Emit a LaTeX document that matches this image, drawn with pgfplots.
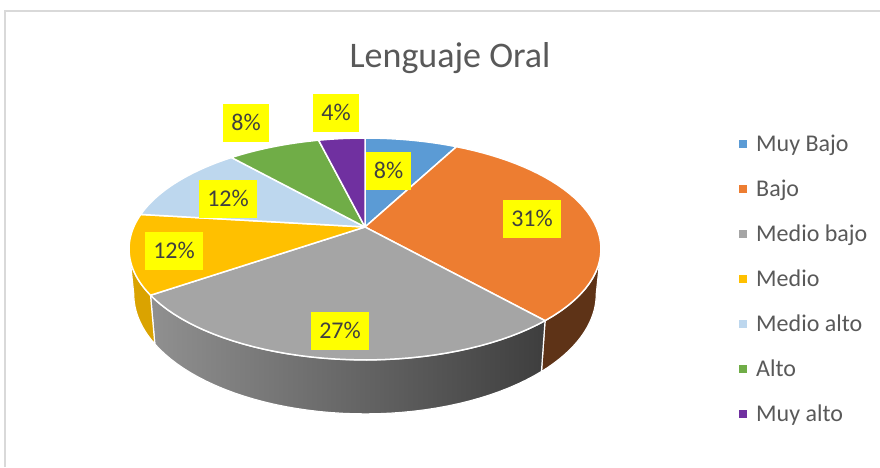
\documentclass[border=0pt]{standalone}
\usepackage{fontspec}
\setmainfont{Carlito}
\usepackage{pgfplots}
\usepackage{pgfplotstable}
\pgfplotsset{compat=1.18}

\definecolor{cMuyBajo}{HTML}{5B9BD5}
\definecolor{cBajo}{HTML}{ED7D31}
\definecolor{cMedioBajo}{HTML}{A5A5A5}
\definecolor{cMedio}{HTML}{FFC000}
\definecolor{cMedioAlto}{HTML}{BDD7EE}
\definecolor{cAlto}{HTML}{70AD47}
\definecolor{cMuyAlto}{HTML}{7030A0}
\definecolor{wBajo}{HTML}{5E3317}
\definecolor{wGrayL}{HTML}{909090}
\definecolor{wGrayR}{HTML}{3E3E3E}
\definecolor{wMedio}{HTML}{DAA300}
\definecolor{txt}{HTML}{404040}
\definecolor{leg}{HTML}{595959}
\definecolor{frame}{HTML}{D9D9D9}
\definecolor{labfill}{HTML}{FFFF00}

\tikzset{lab/.style={fill=labfill, text=txt, font=\fontsize{24}{29}\selectfont,
    inner xsep=8.3pt, inner ysep=0pt, minimum height=38pt, text height=15pt, text depth=0pt}}

% counts (N = 26): percentages 8, 31, 27, 12, 12, 8, 4
\pgfplotstableread{
label count
MuyBajo 2
Bajo 8
MedioBajo 7
Medio 3
MedioAlto 3
Alto 2
MuyAlto 1
}\datatable

\newcommand\getcount[2]{\pgfplotstablegetelem{#1}{count}\of\datatable\let#2\pgfplotsretval}
\getcount{0}\cA
\getcount{1}\cB
\getcount{2}\cC
\getcount{3}\cD
\getcount{4}\cE
\getcount{5}\cF
\getcount{6}\cG
\pgfmathsetmacro\total{\cA+\cB+\cC+\cD+\cE+\cF+\cG}
\pgfmathsetmacro\tA{0}
\pgfmathsetmacro\tB{\tA+360*\cA/\total}
\pgfmathsetmacro\tC{\tB+360*\cB/\total}
\pgfmathsetmacro\tD{\tC+360*\cC/\total}
\pgfmathsetmacro\tE{\tD+360*\cD/\total}
\pgfmathsetmacro\tF{\tE+360*\cE/\total}
\pgfmathsetmacro\tG{\tF+360*\cF/\total}
\pgfmathsetmacro\tH{\tG+360*\cG/\total}
\pgfmathsetmacro\sL{acos(-0.198)}
\pgfmathsetmacro\sR{360-\sL}

\pgfplotsset{
  /pgf/declare function={
    px(\pq)=231.3*sin(\pq)/(1+0.198*cos(\pq));
    py(\pq)=106.6*cos(\pq)/(1+0.198*cos(\pq));
    hh(\pq)=43.3/(1+0.198*cos(\pq));
    th(\pp,\pa,\pb)=(\pp<40.5)*(\pa+\pp/40*(\pb-\pa))+(\pp>40.5)*(\pb-(\pp-41)/40*(\pb-\pa));
  }
}

\newcommand\slice[4]{%
  \addplot[fill=#1, draw=white, line width=1.5pt, line join=round,
    domain=#2:#3, samples=40, variable=\t]
    ({365+px(\t)},{240+py(\t)}) -- (axis cs:365,240) -- cycle;
  \addlegendentry{#4}
}
\newcommand\wall[3]{%
  \addplot[#1, draw=white, line width=1.2pt, line join=round, forget plot,
    domain=0:81, samples=82, variable=\s]
    ({365+(1-0.02*(\s>40.5))*px(th(\s,#2,#3))},
     {240+py(th(\s,#2,#3))-(\s>40.5)*hh(th(\s,#2,#3))}) -- cycle;
}

\begin{document}
\begin{tikzpicture}
\path[use as bounding box] (0,0) rectangle (880pt,467pt);
\begin{axis}[
  at={(0,0)}, anchor=south west,
  scale only axis, width=880pt, height=467pt,
  xmin=0, xmax=880, ymin=0, ymax=467,
  hide axis, clip=false,
  legend cell align=left,
  legend image code/.code={\fill[#1, draw=none] (0pt,-3.75pt) rectangle (7.5pt,3.75pt); \path[draw=none, fill=none] (0pt,0pt) -- (17pt,0pt);},
  legend style={at={(axis cs:739,335)}, anchor=north west, draw=none, fill=none,
    inner sep=0pt, row sep=21pt, column sep=0pt,
    font=\fontsize{24}{29}\selectfont, text=leg,
    nodes={inner sep=0pt, text height=19pt, text depth=5pt}},
]
\draw[frame, line width=1.3pt] (axis cs:5,0) -- (axis cs:5,456) -- (axis cs:880,456);

% side walls
\wall{fill=wBajo}{\sL}{\tC}
\wall{left color=wGrayL, right color=wGrayR}{\tC}{\tD}
\wall{fill=wMedio}{\tD}{\sR}

% top face
\slice{cMuyBajo}{\tA}{\tB}{Muy Bajo}
\slice{cBajo}{\tB}{\tC}{Bajo}
\slice{cMedioBajo}{\tC}{\tD}{Medio bajo}
\slice{cMedio}{\tD}{\tE}{Medio}
\slice{cMedioAlto}{\tE}{\tF}{Medio alto}
\slice{cAlto}{\tF}{\tG}{Alto}
\slice{cMuyAlto}{\tG}{\tH}{Muy alto}

% data labels
\node[lab] at (axis cs:388.5,296.5) {8\%};
\node[lab] at (axis cs:532,248) {31\%};
\node[lab] at (axis cs:340,136) {27\%};
\node[lab] at (axis cs:174,216) {12\%};
\node[lab] at (axis cs:228,268.5) {12\%};
\node[lab] at (axis cs:246,344) {8\%};
\node[lab] at (axis cs:336,354) {4\%};

\node[font=\fontsize{36}{43}\selectfont, text=leg, anchor=base] at (axis cs:450,400) {Lenguaje Oral};
\end{axis}
\end{tikzpicture}
\end{document}
